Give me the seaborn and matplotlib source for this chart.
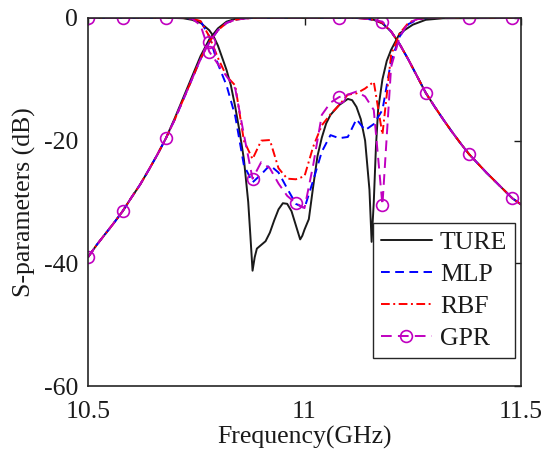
import numpy as np
import matplotlib
matplotlib.use('Agg')
import matplotlib.pyplot as plt
import seaborn as sns

# frequency grid of the surrogate models (GHz)
freq = np.linspace(10.5, 11.5, 51)

# S11 of the three surrogate models (dB), one value per freq
mlp_s11 = [0, 0, 0, 0, 0, 0, 0, 0, 0, 0, 0, 0, -0.1,
           -0.5, -3, -7.5, -11, -16, -24, -26.8, -25.5, -24, -25.2, -27.8,
           -30.3, -31, -26.5, -21.8, -19.1, -19.6, -19.4, -16.5, -18.3,
           -17.3, -15, -7, -3, -1, -0.3,
           0, 0, 0, 0, 0, 0, 0, 0, 0, 0, 0, 0]
rbf_s11 = [0, 0, 0, 0, 0, 0, 0, 0, 0, 0, 0, 0, -0.1,
           -0.5, -3, -6.5, -9.5, -11, -20, -23, -20, -19.9, -24.5, -26.2,
           -26.3, -25.8, -21, -17.5, -15.7, -14.2, -12.5, -12.3, -11.5,
           -10.4, -19, -6, -2.5, -0.8, -0.2,
           0, 0, 0, 0, 0, 0, 0, 0, 0, 0, 0, 0]
gpr_s11 = [0, 0, 0, 0, 0, 0, 0, 0, 0, 0, 0, 0, -0.1,
           -1.2, -5.5, -7.5, -9.5, -11.5, -19, -26.2, -23.5, -24.5, -27, -29,
           -30.2, -31, -24, -15.8, -13.8, -12.9, -12.5, -12, -12.8,
           -15, -30.5, -8, -3, -0.8, -0.2,
           0, 0, 0, 0, 0, 0, 0, 0, 0, 0, 0, 0]

# S21 of the models (dB)
mlp_s21 = [-39, -37, -35.2, -33.4, -31.5, -29.3, -27.2, -24.8, -22.3, -19.6,
           -16.6, -13.3, -10, -6.7, -4, -2, -0.8, -0.3, -0.1,
           0, 0, 0, 0, 0, 0, 0, 0, 0, 0, 0, 0, 0,
           -0.1, -0.3, -0.8, -2.2, -4.3, -6.8, -9.5, -12.2, -14.4, -16.5,
           -18.5, -20.4, -22.2, -23.7, -25.2, -26.6, -28, -29.4, -30.4]
rbf_s21 = [-39, -37, -35.2, -33.4, -31.5, -29.3, -27.2, -24.8, -22.3, -19.6,
           -16.6, -13.3, -10, -6.6, -3.9, -2, -0.8, -0.3, -0.1,
           0, 0, 0, 0, 0, 0, 0, 0, 0, 0, 0, 0, 0,
           -0.1, -0.3, -0.8, -2.2, -4.3, -6.8, -9.5, -12.2, -14.4, -16.5,
           -18.5, -20.4, -22.2, -23.7, -25.2, -26.6, -28, -29.4, -30.4]
gpr_s21 = [-39, -37, -35.2, -33.4, -31.5, -29.3, -27.2, -24.8, -22.3, -19.6,
           -16.6, -13.3, -10, -6.7, -4, -2, -0.8, -0.3, -0.1,
           0, 0, 0, 0, 0, 0, 0, 0, 0, 0, 0, 0, 0,
           -0.1, -0.3, -0.6, -2.2, -4.3, -6.8, -9.5, -12.2, -14.4, -16.5,
           -18.5, -20.4, -22.2, -23.7, -25.2, -26.6, -28, -29.4, -30.4]
true_s21 = [-39, -37, -35.2, -33.4, -31.5, -29.3, -27.2, -24.8, -22.3, -19.6,
            -16.4, -13, -9.6, -6.2, -3.5, -1.7, -0.6, -0.15, -0.05,
            0, 0, 0, 0, 0, 0, 0, 0, 0, 0, 0, 0, 0,
            -0.1, -0.3, -0.9, -2.2, -4.3, -6.8, -9.5, -12.2, -14.4, -16.5,
            -18.5, -20.4, -22.2, -23.7, -25.2, -26.6, -28, -29.4, -30.4]

# full-wave (reference) S11 on a finer grid
true_freq = [10.5, 10.7, 10.72, 10.74, 10.76, 10.78, 10.79, 10.8, 10.81, 10.82,
             10.83, 10.84, 10.85, 10.86, 10.87, 10.875, 10.88, 10.885, 10.89,
             10.9, 10.91, 10.92, 10.93, 10.94, 10.95, 10.96, 10.97, 10.98,
             10.99, 10.995, 11.0, 11.01, 11.02, 11.03, 11.04, 11.05, 11.06,
             11.08, 11.1, 11.11, 11.12, 11.13, 11.14, 11.15, 11.155, 11.16,
             11.165, 11.17, 11.18, 11.19, 11.2, 11.22, 11.25, 11.28, 11.32,
             11.5]
true_s11 = [0, 0, -0.05, -0.3, -0.8, -2, -3, -4.5, -6.5, -8.5,
            -11, -14.5, -18.5, -23, -30, -35.5, -41.2, -39, -37.6,
            -37, -36.4, -35, -33, -31.2, -30.2, -30.3, -31.5, -33.8,
            -36.1, -35.5, -34.5, -32.8, -27.5, -22.5, -19.5, -17.2, -15.8,
            -14.2, -13.2, -13.4, -14.5, -16.5, -20, -28, -36.5, -30,
            -21, -15, -10, -7, -5.2, -2.5, -1.1, -0.3, -0.05,
            0]

s11_marks = [0, 4, 9, 14, 19, 24, 29, 34, 44, 49]
s21_marks = [0, 4, 9, 14, 29, 34, 39, 44, 49]

sns.set_theme(style='white')
plt.rcParams['font.family'] = ['Liberation Serif', 'DejaVu Serif']
plt.rcParams['axes.unicode_minus'] = False

fs = 18.5
fig = plt.figure(figsize=(5.44, 4.49), dpi=100)
ax = fig.add_axes([0.1618, 0.1403, 0.7959, 0.8197])

lw = 1.4
blue = '#0000FF'
red = '#FF0000'
mag = '#C000C0'

sns.lineplot(x=true_freq, y=true_s11, ax=ax, color='k', lw=lw,
             estimator=None, sort=False, label='TURE')
sns.lineplot(x=freq, y=true_s21, ax=ax, color='k', lw=lw,
             estimator=None, sort=False, label='_nolegend_')

mlp_ls = (0, (4.5, 2.8))
sns.lineplot(x=freq, y=mlp_s11, ax=ax, color=blue, lw=lw, ls=mlp_ls,
             estimator=None, sort=False, label='MLP')
sns.lineplot(x=freq, y=mlp_s21, ax=ax, color=blue, lw=lw, ls=mlp_ls,
             estimator=None, sort=False, label='_nolegend_')

rbf_ls = (0, (4.5, 1.8, 1, 1.8))
sns.lineplot(x=freq, y=rbf_s11, ax=ax, color=red, lw=lw, ls=rbf_ls,
             estimator=None, sort=False, label='RBF')
sns.lineplot(x=freq, y=rbf_s21, ax=ax, color=red, lw=lw, ls=rbf_ls,
             estimator=None, sort=False, label='_nolegend_')

gpr_ls = (0, (5.5, 3.2))
mk = dict(marker='o', ms=8.5, mfc='none', mec=mag, mew=1.2)
sns.lineplot(x=freq, y=gpr_s11, ax=ax, color=mag, lw=lw, ls=gpr_ls,
             markevery=s11_marks, estimator=None, sort=False,
             label='GPR', **mk)
sns.lineplot(x=freq, y=gpr_s21, ax=ax, color=mag, lw=lw, ls=gpr_ls,
             markevery=s21_marks, estimator=None, sort=False,
             label='_nolegend_', **mk)

ax.set_xlim(10.5, 11.5)
ax.set_ylim(-60, 0)
ax.set_xticks([10.5, 11, 11.5])
ax.set_xticklabels(['10.5', '11', '11.5'])
ax.set_yticks([-60, -40, -20, 0])
ax.tick_params(direction='in', length=5, width=1, labelsize=fs,
               colors='k', top=True, right=True, pad=7)
ax.tick_params(axis='x', pad=11)
for sp in ax.spines.values():
    sp.set_color('#262626')
    sp.set_linewidth(1.2)
ax.set_xlabel('Frequency(GHz)', fontsize=fs, color='k', labelpad=2)
ax.set_ylabel('S-parameters (dB)', fontsize=fs, color='k', labelpad=6)
ax.grid(False)

leg = ax.legend(loc='lower right', bbox_to_anchor=(0.986, 0.076),
                borderaxespad=0, fontsize=fs, frameon=True, fancybox=False,
                handlelength=2.0, handletextpad=0.3, labelspacing=0.36,
                borderpad=0.3, framealpha=1)
leg.get_frame().set_edgecolor('#262626')
leg.get_frame().set_linewidth(1.0)
for t in leg.get_texts():
    t.set_color('k')

fig.savefig('out.png', dpi=100)
